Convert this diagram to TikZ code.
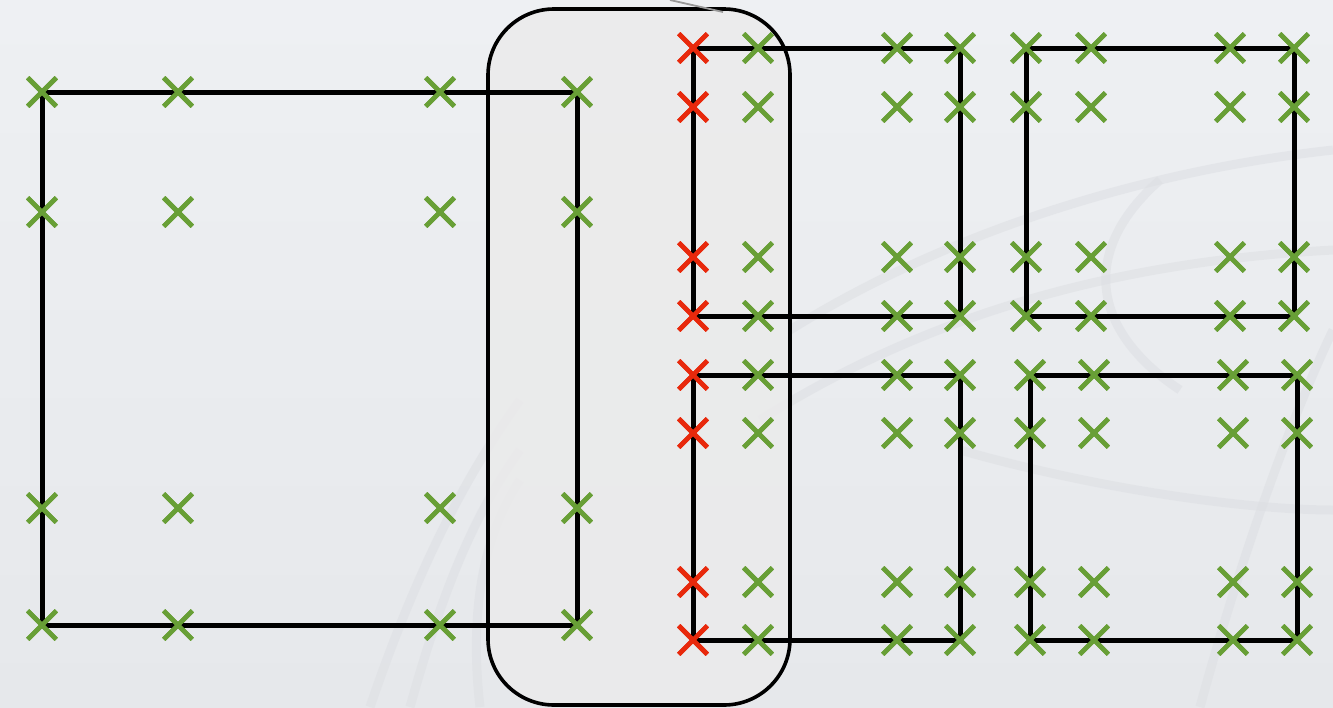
\documentclass[tikz,border=0pt]{standalone}
\usetikzlibrary{shapes.misc}
\definecolor{xgreen}{HTML}{689F36}
\definecolor{xred}{HTML}{E8290C}
\definecolor{bgtop}{HTML}{EEF0F3}
\definecolor{bgbot}{HTML}{E6E8EB}
\definecolor{globe}{HTML}{DDDFE3}
\definecolor{boxfill}{HTML}{EBEBEB}
\tikzset{
  gx/.style={cross out, draw=xgreen, line width=4.6pt, minimum size=24pt, inner sep=0pt},
  rx/.style={cross out, draw=xred, line width=4.6pt, minimum size=24pt, inner sep=0pt},
  sq/.style={draw=black, line width=5pt},
  selbox/.style={draw=black, line width=3.6pt, fill=boxfill, fill opacity=0.85, rounded corners=66pt},
  globeline/.style={draw=globe, line width=9pt, opacity=0.55},
  lead/.style={draw=gray!80, line width=1.8pt}
}
\begin{document}
\begin{tikzpicture}[x=1pt,y=-1pt]
\useasboundingbox (0,0) rectangle (1333,707);
\shade[top color=bgtop, bottom color=bgbot] (0,0) rectangle (1333,707);
% faint globe in background
\begin{scope}
\clip (0,0) rectangle (1333,707);
\draw[globeline] (370,707) .. controls (420,560) and (470,470) .. (520,400);
\draw[globeline] (410,707) .. controls (440,600) and (470,520) .. (520,450);
\draw[globeline] (480,707) .. controls (470,620) and (480,540) .. (520,480);
\draw[globeline] (790,330) .. controls (950,230) and (1150,170) .. (1333,150);
\draw[globeline] (760,420) .. controls (950,300) and (1150,260) .. (1333,250);
\draw[globeline] (1160,180) .. controls (1080,250) and (1090,330) .. (1180,390);
\draw[globeline] (960,450) .. controls (1100,490) and (1250,510) .. (1333,510);
\draw[globeline] (1200,707) .. controls (1240,560) and (1290,420) .. (1333,330);
\end{scope}
% selection box
\node[selbox, minimum width=302pt, minimum height=696pt, inner sep=0pt] (sel) at (639,357) {};
\coordinate (leadstart) at (670,0);
\coordinate (leadend) at (723,12);
\draw[lead] (leadstart) -- (leadend);
% big left square
\foreach \x [count=\i] in {42,178,440,577}
  \foreach \y [count=\j] in {92,212,508,625}
    \node[gx] (L-\i-\j) at (\x,\y) {};
% small grids
\foreach \g/\r/\cols/\rows in {A/1/{693,758,897,960}/{48,107,257,316},
                               B/0/{1026,1091,1230,1294}/{48,107,257,316},
                               C/1/{693,758,897,960}/{375,433,582,640},
                               D/0/{1030,1094,1233,1297}/{375,433,582,640}} {
  \foreach \x [count=\i] in \cols
    \foreach \y [count=\j] in \rows {
      \ifnum\i=1 \ifnum\r=1
        \node[rx] (\g-\i-\j) at (\x,\y) {};
      \else
        \node[gx] (\g-\i-\j) at (\x,\y) {};
      \fi\else
        \node[gx] (\g-\i-\j) at (\x,\y) {};
      \fi
    }
}
% squares (drawn between corner crosses)
\draw[sq] (L-1-1.center) rectangle (L-4-4.center);
\draw[sq] (A-1-1.center) rectangle (A-4-4.center);
\draw[sq] (B-1-1.center) rectangle (B-4-4.center);
\draw[sq] (C-1-1.center) rectangle (C-4-4.center);
\draw[sq] (D-1-1.center) rectangle (D-4-4.center);
% redraw crosses on top of square lines
\foreach \i in {1,2,3,4}
  \foreach \j in {1,2,3,4}
    \node[gx] at (L-\i-\j.center) {};
\foreach \g/\r in {A/1,B/0,C/1,D/0}
  \foreach \i in {1,2,3,4}
    \foreach \j in {1,2,3,4} {
      \ifnum\i=1 \ifnum\r=1
        \node[rx] at (\g-\i-\j.center) {};
      \else
        \node[gx] at (\g-\i-\j.center) {};
      \fi\else
        \node[gx] at (\g-\i-\j.center) {};
      \fi
    }
\end{tikzpicture}
\end{document}
